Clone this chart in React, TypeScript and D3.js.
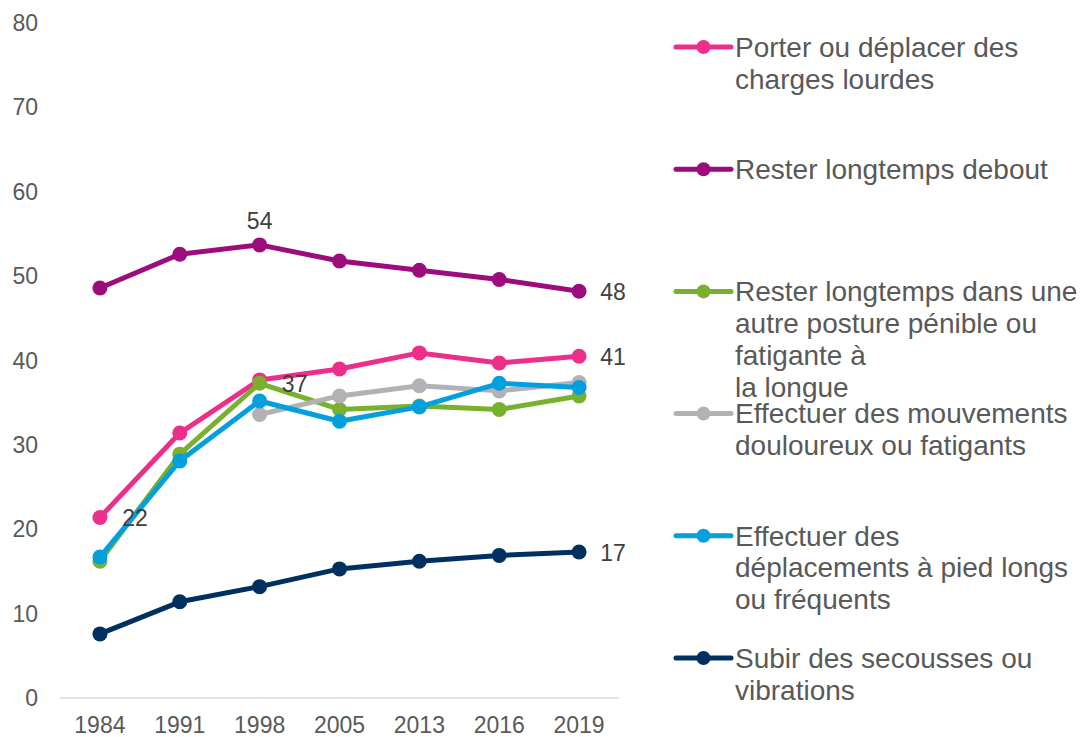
import React, { useEffect, useRef } from 'react';
import * as d3 from 'd3';

const YEARS = ['1984', '1991', '1998', '2005', '2013', '2016', '2019'];

const CHARGES = [21.4, 31.4, 37.7, 39.0, 40.9, 39.7, 40.5];
const DEBOUT = [48.6, 52.6, 53.7, 51.8, 50.7, 49.6, 48.2];
const POSTURE = [16.2, 28.9, 37.3, 34.2, 34.6, 34.2, 35.8];
const MOUVEMENTS = [null, null, 33.6, 35.8, 37.0, 36.4, 37.4];
const DEPLACEMENTS = [16.7, 28.1, 35.2, 32.8, 34.5, 37.3, 36.8];
const SECOUSSES = [7.6, 11.4, 13.2, 15.3, 16.2, 16.9, 17.3];

const LABEL_CHARGES = ['Porter ou déplacer des', 'charges lourdes'];
const LABEL_DEBOUT = ['Rester longtemps debout'];
const LABEL_POSTURE = ['Rester longtemps dans une', 'autre posture pénible ou', 'fatigante à', 'la longue'];
const LABEL_MOUVEMENTS = ['Effectuer des mouvements', 'douloureux ou fatigants'];
const LABEL_DEPLACEMENTS = ['Effectuer des', 'déplacements à pied longs', 'ou fréquents'];
const LABEL_SECOUSSES = ['Subir des secousses ou', 'vibrations'];

const Y_TICKS = [0, 10, 20, 30, 40, 50, 60, 70, 80];

// data labels shown on the chart: series index, year index, text
const DATA_LABELS: [number, number, string][] = [
    [1, 2, '54'],
    [1, 6, '48'],
    [0, 6, '41'],
    [2, 2, '37'],
    [0, 0, '22'],
    [5, 6, '17'],
];

export default function App() {
    const svgRef = useRef<SVGSVGElement>(null);

    useEffect(() => {
        if (!svgRef.current) return;
        const width = 1081;
        const height = 737;
        const svg = d3.select(svgRef.current);
        svg.selectAll('*').remove();
        svg.attr('width', width).attr('height', height).attr('viewBox', `0 0 ${width} ${height}`);

        const font = '"Liberation Sans", Arial, sans-serif';
        const textColor = '#595959';

        const series = [
            { name: LABEL_CHARGES, values: CHARGES, color: '#ec2f8b' },
            { name: LABEL_DEBOUT, values: DEBOUT, color: '#9c0c7d' },
            { name: LABEL_POSTURE, values: POSTURE, color: '#79b12f' },
            { name: LABEL_MOUVEMENTS, values: MOUVEMENTS, color: '#b2b2b4' },
            { name: LABEL_DEPLACEMENTS, values: DEPLACEMENTS, color: '#04a0de' },
            { name: LABEL_SECOUSSES, values: SECOUSSES, color: '#00305f' },
        ];

        const x = d3.scaleBand<string>().domain(YEARS).range([60, 619]);
        const y = d3.scaleLinear().domain([0, 80]).range([698, 23]);
        const cxOf = (i: number) => (x(YEARS[i]) as number) + x.bandwidth() / 2;

        // axis line
        svg.append('line')
            .attr('x1', 60).attr('x2', 619)
            .attr('y1', y(0)).attr('y2', y(0))
            .attr('stroke', '#d9d9d9').attr('stroke-width', 1.5);

        // y tick labels
        svg.append('g').selectAll('text')
            .data(Y_TICKS)
            .join('text')
            .attr('x', 38)
            .attr('y', d => y(d))
            .attr('dy', '0.35em')
            .attr('text-anchor', 'end')
            .attr('font-family', font)
            .attr('font-size', 23)
            .attr('fill', textColor)
            .text(d => d);

        // x tick labels
        svg.append('g').selectAll('text')
            .data(YEARS)
            .join('text')
            .attr('x', d => (x(d) as number) + x.bandwidth() / 2)
            .attr('y', 725)
            .attr('dy', '0.35em')
            .attr('text-anchor', 'middle')
            .attr('font-family', font)
            .attr('font-size', 23)
            .attr('fill', textColor)
            .text(d => d);

        const line = d3.line<number | null>()
            .defined(d => d !== null)
            .x((d, i) => cxOf(i))
            .y(d => y(d as number));

        series.forEach(s => {
            const g = svg.append('g');
            g.append('path')
                .attr('d', line(s.values))
                .attr('fill', 'none')
                .attr('stroke', s.color)
                .attr('stroke-width', 5)
                .attr('stroke-linejoin', 'round');
            g.selectAll('circle')
                .data(s.values.map((v, i) => ({ v, i })).filter(p => p.v !== null))
                .join('circle')
                .attr('cx', p => cxOf(p.i))
                .attr('cy', p => y(p.v as number))
                .attr('r', 7.5)
                .attr('fill', s.color);
        });

        // data labels
        const labelPos: Record<string, [number, number]> = {
            '54': [0, -24], '48': [34, 1], '41': [34, 1], '37': [35, 1], '22': [35, 1], '17': [34, 1],
        };
        svg.append('g').selectAll('text')
            .data(DATA_LABELS)
            .join('text')
            .attr('x', d => cxOf(d[1]) + labelPos[d[2]][0])
            .attr('y', d => y(series[d[0]].values[d[1]] as number) + labelPos[d[2]][1])
            .attr('dy', '0.35em')
            .attr('text-anchor', 'middle')
            .attr('font-family', font)
            .attr('font-size', 23)
            .attr('fill', '#404040')
            .text(d => d[2]);

        // legend
        const legend = svg.append('g');
        series.forEach((s, k) => {
            const ly = 47 + k * 122.2;
            legend.append('line')
                .attr('x1', 676).attr('x2', 731)
                .attr('y1', ly).attr('y2', ly)
                .attr('stroke', s.color).attr('stroke-width', 5)
                .attr('stroke-linecap', 'round');
            legend.append('circle')
                .attr('cx', 703.5).attr('cy', ly).attr('r', 7)
                .attr('fill', s.color);
            s.name.forEach((t, j) => {
                legend.append('text')
                    .attr('x', 735)
                    .attr('y', ly + j * 31.8)
                    .attr('dy', '0.35em')
                    .attr('font-family', font)
                    .attr('font-size', 28)
                    .attr('fill', textColor)
                    .text(t);
            });
        });
    }, []);

    return (
        <div style={{ position: 'absolute', left: 0, top: 0, background: '#fff' }}>
            <svg ref={svgRef} style={{ display: 'block' }} />
        </div>
    );
}
